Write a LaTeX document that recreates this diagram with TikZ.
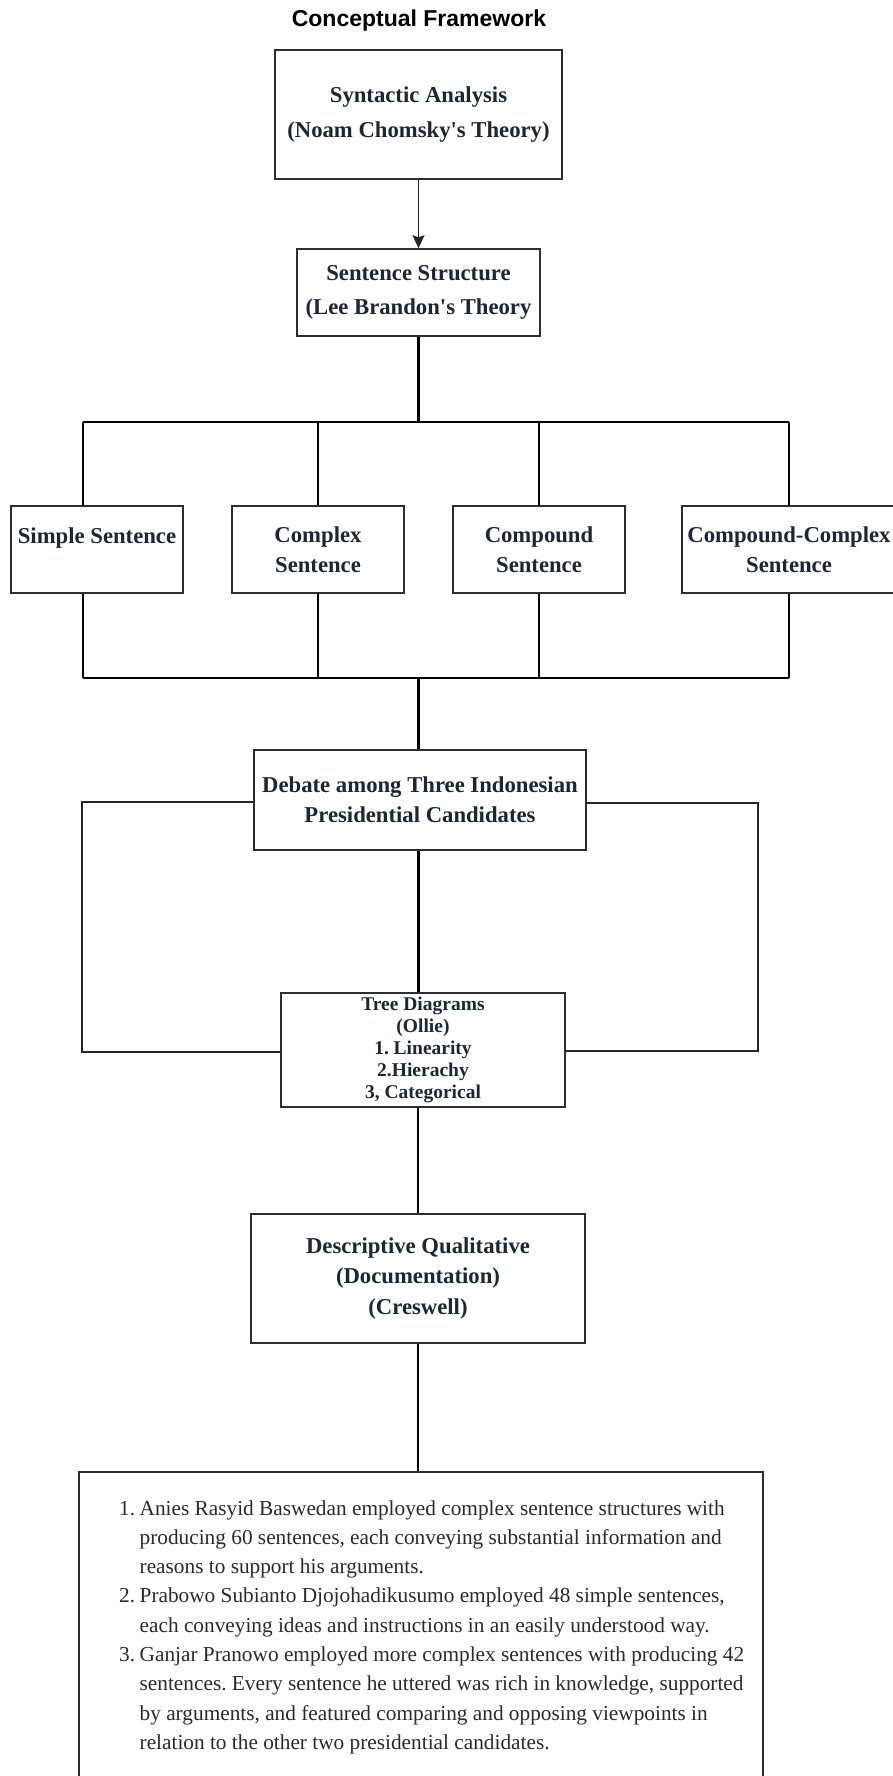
\documentclass[tikz,border=0pt]{standalone}
\usepackage{fontspec}
\setmainfont{Liberation Serif}[Ligatures=TeXOff]
\newfontfamily\titlefont{Liberation Sans}
\usetikzlibrary{arrows.meta}
\definecolor{labelc}{HTML}{1C2733}
\definecolor{listc}{HTML}{2A2A2A}
\definecolor{borderc}{HTML}{2E2E2E}
\tikzset{
  box/.style={draw=borderc, line width=1.5pt, inner sep=0pt, align=center, text=labelc,
    font=\bfseries\fontsize{22.7}{30}\selectfont},
  trunk/.style={draw=black, line width=2.2pt},
  thinlink/.style={draw=black!85, line width=1.5pt},
  arrowlink/.style={draw=black!85, line width=1.4pt, -{Stealth[length=13pt,width=12pt,inset=2pt]}},
}
\begin{document}
\frenchspacing
\begin{tikzpicture}[x=1pt,y=-1pt]
\useasboundingbox[fill=white] (0,0) rectangle (892,1776);

\node[font=\titlefont\bfseries\fontsize{23}{27}\selectfont] (title) at (419,21) {Conceptual Framework};

\node[box, minimum width=287pt, minimum height=129pt, font=\bfseries\fontsize{22.7}{35}\selectfont] (syn) at (418.5,114.5)
  {Syntactic Analysis\\(Noam Chomsky's Theory)};
\node[box, minimum width=243pt, minimum height=87pt, font=\bfseries\fontsize{22.7}{34}\selectfont] (ss) at (418.5,292.5)
  {Sentence Structure\\(Lee Brandon's Theory};

\node[box, minimum width=172pt, minimum height=87pt] (simple) at (97,549.5) {Simple Sentence\\[-2pt]\mbox{}};
\node[box, minimum width=172pt, minimum height=87pt] (complex) at (318,549.5) {Complex\\Sentence};
\node[box, minimum width=172pt, minimum height=87pt] (compound) at (539,549.5) {Compound\\Sentence};
\node[box, minimum width=214pt, minimum height=87pt] (cc) at (789,549.5) {Compound-Complex\\Sentence};

\node[box, minimum width=332pt, minimum height=100pt] (debate) at (420,800)
  {Debate among Three Indonesian\\Presidential Candidates};

\node[box, minimum width=284pt, minimum height=114pt, font=\bfseries\fontsize{19.5}{22}\selectfont] (tree) at (423,1050)
  {Tree Diagrams\\(Ollie)\\1. Linearity\\2.Hierachy\\3, Categorical};

\node[box, minimum width=334pt, minimum height=129pt, font=\bfseries\fontsize{22.7}{30.5}\selectfont] (desc) at (418,1278.5)
  {Descriptive Qualitative\\(Documentation)\\(Creswell)};

\node[draw=borderc, line width=1.5pt, minimum width=684pt, minimum height=328pt, inner sep=0pt] (results) at (421,1636) {};

\node[anchor=base west, inner sep=0pt, text=listc, font=\fontsize{21.3}{29.3}\selectfont] (list) at (119,1515) {%
\begin{tabular}[t]{@{}r@{\hspace{4.5pt}}l@{}}
1. & Anies Rasyid Baswedan employed complex sentence structures with\\
   & producing 60 sentences, each conveying substantial information and\\
   & reasons to support his arguments.\\
2. & Prabowo Subianto Djojohadikusumo employed 48 simple sentences,\\
   & each conveying ideas and instructions in an easily understood way.\\
3. & Ganjar Pranowo employed more complex sentences with producing 42\\
   & sentences. Every sentence he uttered was rich in knowledge, supported\\
   & by arguments, and featured comparing and opposing viewpoints in\\
   & relation to the other two presidential candidates.
\end{tabular}};

% connectors
\draw[arrowlink] (syn.south) -- (ss.north);

\coordinate (busTL) at (83,422);
\coordinate (busTR) at (789,422);
\coordinate (busBL) at (83,678);
\coordinate (busBR) at (789,678);

\draw[trunk] (ss.south) -- (ss.south |- busTL);
\draw[trunk] (busTL) -- (busTR);
\draw[trunk] (busTL) -- (busTL |- simple.north);
\draw[trunk] (complex.north |- busTL) -- (complex.north);
\draw[trunk] (compound.north |- busTL) -- (compound.north);
\draw[trunk] (busTR) -- (cc.north);

\draw[trunk] (busTL |- simple.south) -- (busBL);
\draw[trunk] (complex.south) -- (complex.south |- busBL);
\draw[trunk] (compound.south) -- (compound.south |- busBL);
\draw[trunk] (cc.south) -- (busBR);
\draw[trunk] (busBL) -- (busBR);
\draw[trunk] (ss.south |- busBL) -- (ss.south |- debate.north);

\draw[thinlink] ([yshift=-2pt]debate.west) -- (82,802) -- (82,1052) -- ([yshift=-2pt]tree.west);
\draw[thinlink] ([yshift=-3pt]debate.east) -- (758,803) -- (758,1051) -- ([yshift=-1pt]tree.east);

\draw[trunk] (debate.south -| ss.south) -- (tree.north -| ss.south);
\draw[trunk] (tree.south -| desc.north) -- (desc.north);
\draw[trunk] (desc.south) -- (desc.south |- results.north);
\end{tikzpicture}
\end{document}
